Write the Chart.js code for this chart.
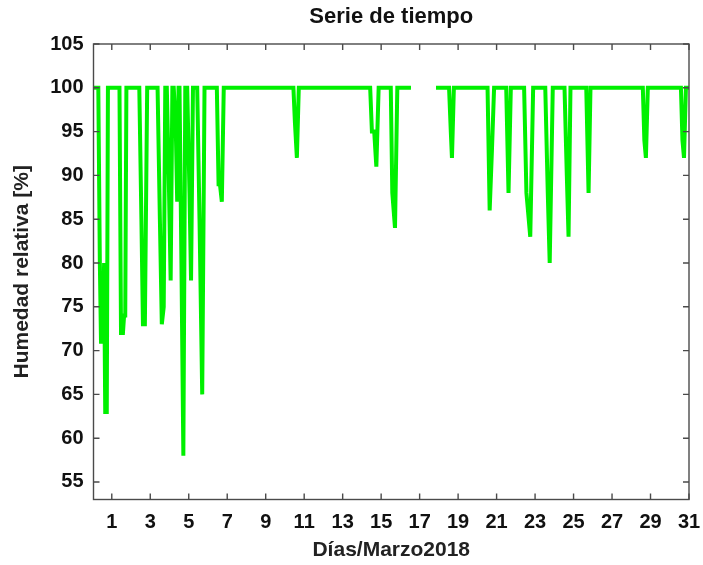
<!DOCTYPE html>
<html>
<head>
<meta charset="utf-8">
<title>Serie de tiempo</title>
<script src="https://cdn.jsdelivr.net/npm/chart.js@4"></script>
<style>
  html, body { margin: 0; padding: 0; background: #fff; }
  #wrap { width: 703px; height: 565px; }
</style>
</head>
<body>
<div id="wrap"><canvas id="humChart" width="703" height="565"></canvas></div>
<script>
// ---- data (day of March 2018, relative humidity %)
const xTickDays = [1, 3, 5, 7, 9, 11, 13, 15, 17, 19, 21, 23, 25, 27, 29, 31];
const yTickValues = [55, 60, 65, 70, 75, 80, 85, 90, 95, 100, 105];

const humDays = [
  0.05, 0.30, 0.38, 0.44, 0.55, 0.60, 0.66, 0.74, 0.80,
  1.40, 1.48, 1.58, 1.64, 1.70, 1.76,
  2.43, 2.54, 2.62, 2.72, 2.84,
  3.38, 3.50, 3.60, 3.70, 3.78,
  3.86, 3.96, 4.06, 4.15,
  4.22, 4.33, 4.40, 4.47,
  4.52, 4.62, 4.72, 4.82,
  4.92, 5.04, 5.12, 5.22,
  5.44, 5.56, 5.70, 5.82,
  6.46, 6.55, 6.62, 6.72, 6.82,
  10.44, 10.52, 10.62, 10.72,
  14.43, 14.52, 14.64, 14.75, 14.87,
  15.50, 15.58, 15.72, 15.84, 16.55,
  17.20,
  17.85, 18.53, 18.62, 18.68, 18.78,
  20.53, 20.64, 20.76, 20.87,
  21.50, 21.62, 21.74,
  22.43, 22.55, 22.75, 22.90,
  23.53, 23.66, 23.76, 23.92,
  24.53, 24.65, 24.74, 24.84,
  25.66, 25.78, 25.88,
  28.60, 28.68, 28.76, 28.86,
  30.58, 30.66, 30.74, 30.84, 31.00
];
const humValues = [
  100, 100, 80, 71, 71, 80, 63, 63, 100,
  100, 72, 72, 74, 74, 100,
  100, 85, 73, 73, 100,
  100, 85, 73, 75, 100,
  100, 90, 78, 100,
  100, 95, 87, 100,
  100, 80, 58, 100,
  100, 88, 78, 100,
  100, 85, 65, 100,
  100, 89, 89, 87, 100,
  100, 96, 92, 100,
  100, 95, 95, 91, 100,
  100, 88, 84, 100, 100,
  null,
  100, 100, 95, 92, 100,
  100, 86, 93, 100,
  100, 88, 100,
  100, 88, 83, 100,
  100, 88, 80, 100,
  100, 90, 83, 100,
  100, 88, 100,
  100, 94, 92, 100,
  100, 94, 92, 100, 100
];

const points = humDays.map((d, i) => ({ x: d, y: humValues[i] }));

// box round the plot with inward ticks on all four sides (gnuplot look)
const frameTicks = {
  id: 'frameTicks',
  afterLayout(chart) {
    // centre the title over the plot box, not the whole canvas
    const t = chart.titleBlock;
    if (t) { t.left = chart.chartArea.left; t.right = chart.chartArea.right; }
  },
  afterDatasetsDraw(chart) {
    const { ctx, chartArea: a, scales } = chart;
    const len = 6;
    ctx.save();
    ctx.strokeStyle = '#4a4a4a';
    ctx.lineWidth = 1.4;
    ctx.strokeRect(a.left, a.top, a.right - a.left, a.bottom - a.top);
    ctx.beginPath();
    xTickDays.forEach(d => {
      const px = scales.x.getPixelForValue(d);
      ctx.moveTo(px, a.bottom); ctx.lineTo(px, a.bottom - len);
      ctx.moveTo(px, a.top); ctx.lineTo(px, a.top + len);
    });
    yTickValues.forEach(v => {
      const py = scales.y.getPixelForValue(v);
      ctx.moveTo(a.left, py); ctx.lineTo(a.left + len, py);
      ctx.moveTo(a.right, py); ctx.lineTo(a.right - len, py);
    });
    ctx.stroke();
    ctx.restore();
  }
};

const ctx = document.getElementById('humChart');

new Chart(ctx, {
  type: 'line',
  data: {
    datasets: [{
      label: 'Humedad relativa',
      data: points,
      borderColor: '#00f000',
      borderWidth: 4,
      pointRadius: 0,
      tension: 0,
      spanGaps: false
    }]
  },
  options: {
    responsive: false,
    animation: false,
    layout: { padding: { left: 0, right: 14, top: 0, bottom: 0 } },
    plugins: {
      legend: { display: false },
      tooltip: { enabled: false },
      title: {
        display: true,
        text: 'Serie de tiempo',
        color: '#111',
        font: { family: 'Liberation Sans', size: 22, weight: 'bold' },
        padding: { top: 4, bottom: 13.6 }
      }
    },
    scales: {
      x: {
        type: 'linear',
        min: 0.05,
        max: 31,
        afterBuildTicks: s => { s.ticks = xTickDays.map(v => ({ value: v })); },
        afterFit: s => { s.height = 65.5; s.paddingLeft = 0; s.paddingRight = 0; },
        grid: { display: false, drawTicks: false },
        border: { display: false },
        ticks: {
          padding: 11,
          color: '#111',
          font: { family: 'Liberation Sans', size: 20, weight: 'bold' },
          maxRotation: 0,
          autoSkip: false
        },
        title: {
          display: true,
          text: 'Días/Marzo2018',
          color: '#222',
          font: { family: 'Liberation Sans', size: 21, weight: 'bold' },
          padding: { top: 0, bottom: 2 }
        }
      },
      y: {
        min: 53,
        max: 105,
        afterBuildTicks: s => { s.ticks = yTickValues.map(v => ({ value: v })); },
        afterFit: s => { s.width = 93.5; },
        grid: { display: false, drawTicks: false },
        border: { display: false },
        ticks: {
          padding: 10,
          color: '#111',
          font: { family: 'Liberation Sans', size: 20, weight: 'bold' }
        },
        title: {
          display: true,
          text: 'Humedad relativa [%]',
          color: '#222',
          font: { family: 'Liberation Sans', size: 21, weight: 'bold' },
          padding: { top: 10, bottom: 0 }
        }
      }
    }
  },
  plugins: [frameTicks]
});
</script>
</body>
</html>
